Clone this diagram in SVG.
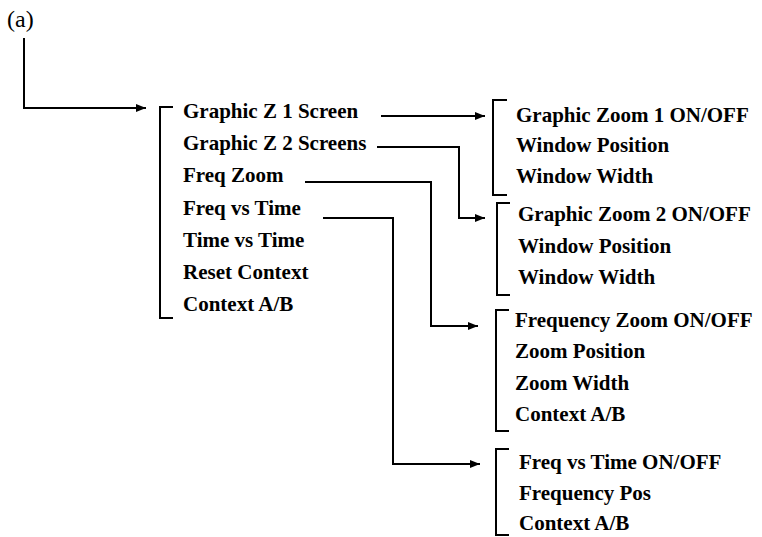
<svg xmlns="http://www.w3.org/2000/svg" width="762" height="537" viewBox="0 0 762 537">
<defs>
<marker id="arr" viewBox="0 0 10 8" refX="10" refY="4" markerWidth="10" markerHeight="8" markerUnits="userSpaceOnUse" orient="auto">
<path d="M0,0 L10,4 L0,8 z" fill="#000"/>
</marker>
<style>
.t{font-family:"Liberation Serif","Times New Roman",serif;font-weight:bold;font-size:21px;fill:#000}
.a{font-family:"Liberation Serif","Times New Roman",serif;font-size:24px;fill:#000}
.br{fill:none;stroke:#000;stroke-width:2}
.c{fill:none;stroke:#000;stroke-width:2;marker-end:url(#arr)}
</style>
</defs>
<rect width="762" height="537" fill="#fff"/>
<text class="a" x="7" y="27">(a)</text>
<g id="connectors">
<path class="c" d="M24,38 V108 H146"/>
<path class="c" d="M381,116 H485"/>
<path class="c" d="M377,147 H459 V218 H485"/>
<path class="c" d="M305,182 H431 V326 H478"/>
<path class="c" d="M323,218 H393 V464 H480"/>
</g>
<g id="main">
<path class="br" d="M173,107 H160 V318 H173"/>
<text class="t" x="183" y="118">Graphic Z 1 Screen</text>
<text class="t" x="183" y="150">Graphic Z 2 Screens</text>
<text class="t" x="183" y="182">Freq Zoom</text>
<text class="t" x="183" y="214.5">Freq vs Time</text>
<text class="t" x="183" y="246.5">Time vs Time</text>
<text class="t" x="183" y="278.5">Reset Context</text>
<text class="t" x="183" y="311">Context A/B</text>
</g>
<g id="zoom1">
<path class="br" d="M507,100 H493 V195 H507"/>
<text class="t" x="516" y="122">Graphic Zoom 1 ON/OFF</text>
<text class="t" x="516" y="152">Window Position</text>
<text class="t" x="516" y="183">Window Width</text>
</g>
<g id="zoom2">
<path class="br" d="M510,203 H497 V295 H510"/>
<text class="t" x="518" y="221">Graphic Zoom 2 ON/OFF</text>
<text class="t" x="518" y="253">Window Position</text>
<text class="t" x="518" y="284">Window Width</text>
</g>
<g id="freqzoom">
<path class="br" d="M509,310 H496 V431 H509"/>
<text class="t" x="515" y="327">Frequency Zoom ON/OFF</text>
<text class="t" x="515" y="358">Zoom Position</text>
<text class="t" x="515" y="389.5">Zoom Width</text>
<text class="t" x="515" y="421">Context A/B</text>
</g>
<g id="freqtime">
<path class="br" d="M509,449 H496 V535 H509"/>
<text class="t" x="519" y="469">Freq vs Time ON/OFF</text>
<text class="t" x="519" y="499.5">Frequency Pos</text>
<text class="t" x="519" y="529.5">Context A/B</text>
</g>
</svg>
